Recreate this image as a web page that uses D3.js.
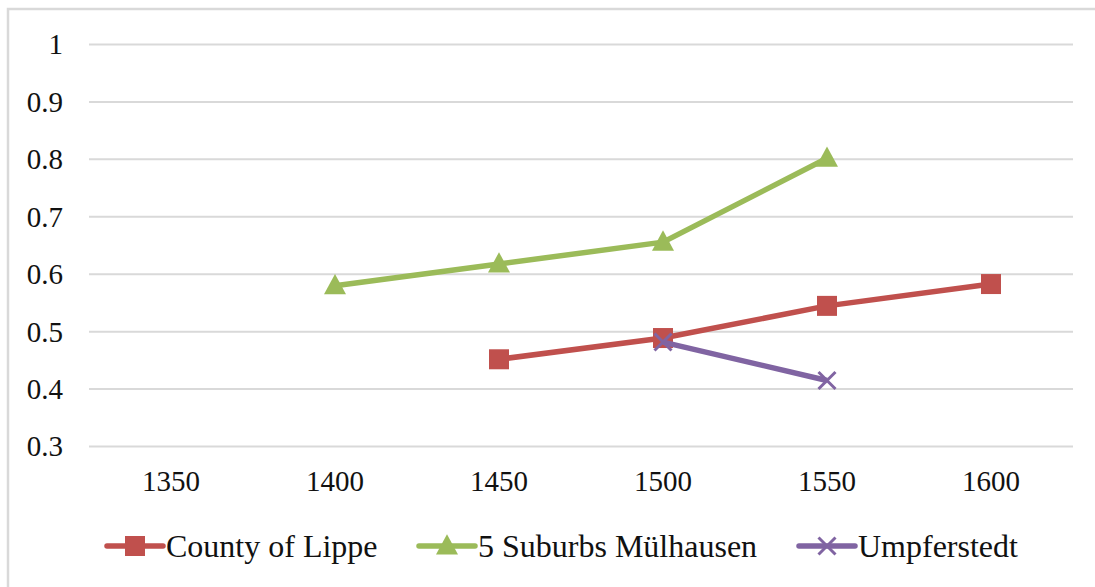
<!DOCTYPE html>
<html><head><meta charset="utf-8">
<script src="https://cdn.jsdelivr.net/npm/d3@7"></script>
</head><body style="margin:0;background:#fff">
<svg id="c" width="1095" height="587" style="display:block" font-family="Liberation Serif, Times New Roman, Tinos, FreeSerif, serif"></svg>
<script>
const categories = ["1350","1400","1450","1500","1550","1600"];
const lippe = [null, null, 0.451, 0.488, 0.544, 0.582];
const suburbs = [null, 0.579, 0.617, 0.655, 0.801, null];
const umpf = [null, null, null, 0.481, 0.414, null];
const yTicks = [0.3,0.4,0.5,0.6,0.7,0.8,0.9,1];
const yTickLabels = ["0.3","0.4","0.5","0.6","0.7","0.8","0.9","1"];
const seriesNames = ["County of Lippe","5 Suburbs Mülhausen","Umpferstedt"];

(function(){
const series = [
  {name: seriesNames[0], values: lippe, color: "#C0504D", marker: "square"},
  {name: seriesNames[1], values: suburbs, color: "#9BBB59", marker: "triangle"},
  {name: seriesNames[2], values: umpf, color: "#8064A2", marker: "x"}
];
const FONT = '"Liberation Serif", "Times New Roman", Tinos, FreeSerif, serif';

const svg = d3.select("#c");
svg.append("rect").attr("x",8).attr("y",9).attr("width",1110).attr("height",620)
  .attr("fill","none").attr("stroke","#D9D9D9").attr("stroke-width",2.5);

const pLeft = 89, pRight = 1073, pTop = 44, pBottom = 446;
const x = d3.scaleBand().domain(categories).range([pLeft,pRight]);
const y = d3.scaleLinear().domain([0.3,1]).range([pBottom,pTop]);

const yAxis = d3.axisLeft(y).tickValues(yTicks).tickSize(-(pRight-pLeft))
  .tickFormat((d,i)=>yTickLabels[i]).tickPadding(26);
const gy = svg.append("g").attr("transform",`translate(${pLeft},0)`).call(yAxis);
gy.attr("font-family", null).attr("font-size", null);
gy.select(".domain").remove();
gy.selectAll("line").attr("stroke","#D9D9D9").attr("stroke-width",2);
gy.selectAll("text").style("font-family",FONT).style("font-size","29px").attr("fill","#111").attr("dy","0.34em");

const xAxis = d3.axisBottom(x).tickSize(0).tickPadding(24);
const gx = svg.append("g").attr("transform",`translate(0,${pBottom})`).call(xAxis);
gx.attr("font-family", null).attr("font-size", null);
gx.select(".domain").remove();
gx.selectAll("text").style("font-family",FONT).style("font-size","29px").attr("fill","#111");

function drawMarker(g, type, cx, cy, color, s) {
  if (type==="square") {
    g.append("rect").attr("x",cx-s/2).attr("y",cy-s/2).attr("width",s).attr("height",s)
      .attr("fill",color);
  } else if (type==="triangle") {
    const h = s*0.95;
    g.append("path").attr("d",`M${cx},${cy-h*0.62}L${cx+s/2+1},${cy+h*0.45}L${cx-s/2-1},${cy+h*0.45}Z`)
      .attr("fill",color);
  } else {
    const r = s/2;
    g.append("path").attr("d",`M${cx-r},${cy-r}L${cx+r},${cy+r}M${cx-r},${cy+r}L${cx+r},${cy-r}`)
      .attr("stroke",color).attr("stroke-width",3);
  }
}

const line = d3.line().defined(d=>d.v!=null)
  .x(d=>x(d.c)+x.bandwidth()/2).y(d=>y(d.v));

series.forEach(s=>{
  const pts = categories.map((c,i)=>({c, v:s.values[i]}));
  const g = svg.append("g");
  g.append("path").datum(pts).attr("d",line).attr("fill","none")
    .attr("stroke",s.color).attr("stroke-width",5.5).attr("stroke-linejoin","round");
  pts.filter(p=>p.v!=null).forEach(p=>{
    drawMarker(g, s.marker, x(p.c)+x.bandwidth()/2, y(p.v), s.color, s.marker==="x"?17:20);
  });
});

const legendX = [107, 419, 799];
const ly = 546;
series.forEach((s,i)=>{
  const g = svg.append("g");
  g.append("line").attr("x1",legendX[i]).attr("x2",legendX[i]+56).attr("y1",ly).attr("y2",ly)
    .attr("stroke",s.color).attr("stroke-width",5.5).attr("stroke-linecap","round");
  drawMarker(g, s.marker, legendX[i]+28, ly, s.color, s.marker==="x"?17:20);
  svg.append("text").attr("x",legendX[i]+59).attr("y",ly+11)
    .style("font-family",FONT).style("font-size","32px").attr("fill","#111").text(s.name);
});
})();
</script>
</body></html>
